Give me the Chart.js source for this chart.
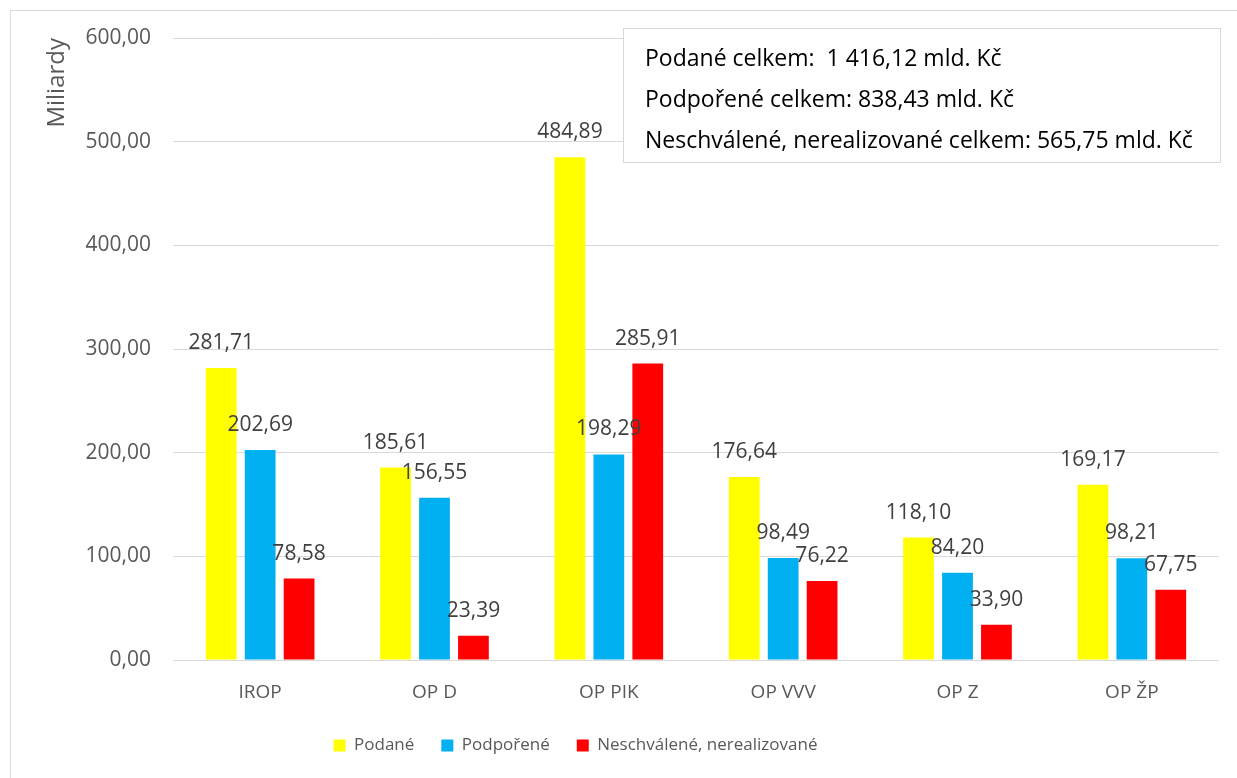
<!DOCTYPE html>
<html>
<head>
<meta charset="utf-8">
<script src="https://cdn.jsdelivr.net/npm/chart.js@4/dist/chart.umd.min.js"></script>
<style>
  html, body { margin: 0; padding: 0; background: #fff; }
  #wrap { width: 1237px; height: 778px; position: relative; }
</style>
</head>
<body>
<div id="wrap"><canvas id="chart"></canvas></div>
<script>
const categories = ['IROP', 'OP D', 'OP PIK', 'OP VVV', 'OP Z', 'OP ŽP'];
const podane = [281.71, 185.61, 484.89, 176.64, 118.10, 169.17];
const podporene = [202.69, 156.55, 198.29, 98.49, 84.20, 98.21];
const neschvalene = [78.58, 23.39, 285.91, 76.22, 33.90, 67.75];
const seriesNames = ['Podané', 'Podpořené', 'Neschválené, nerealizované'];
const summaryLines = [
  'Podané celkem:  1 416,12 mld. Kč',
  'Podpořené celkem: 838,43 mld. Kč',
  'Neschválené, nerealizované celkem: 565,75 mld. Kč',
];

const FONT = '"Open Sans", Lato, sans-serif';
const COLORS = {
  yellow: '#ffff00',
  blue: '#00b0f0',
  red: '#ff0000',
  grid: '#d9d9d9',
  text: '#595959',
  label: '#404040',
};

const fmt = (v) => v.toFixed(2).replace('.', ',');

// outer frame + summary box
const framePlugin = {
  id: 'frame',
  afterLayout(chart) {
    // legend sits a bit left of centre in the original
    chart.legend.left -= 34;
    chart.legend.right -= 34;
  },
  beforeDraw(chart) {
    const ctx = chart.ctx;
    ctx.save();
    ctx.fillStyle = '#fff';
    ctx.fillRect(0, 0, chart.width, chart.height);
    ctx.strokeStyle = COLORS.grid;
    ctx.lineWidth = 1;
    ctx.strokeRect(10.5, 10.5, 1400, 900);
    ctx.restore();
  },
  afterDraw(chart) {
    const ctx = chart.ctx;
    ctx.save();
    ctx.fillStyle = '#fff';
    ctx.fillRect(623, 28, 597, 134);
    ctx.strokeStyle = COLORS.grid;
    ctx.strokeRect(623.5, 28.5, 597, 134);
    ctx.fillStyle = '#000';
    ctx.font = '23px ' + FONT;
    ctx.textBaseline = 'middle';
    summaryLines.forEach((t, i) => ctx.fillText(t, 645, 59 + i * 41));
    ctx.restore();
  },
};

const valueLabels = {
  id: 'valueLabels',
  afterDatasetsDraw(chart) {
    const ctx = chart.ctx;
    ctx.save();
    ctx.font = '21px ' + FONT;
    ctx.fillStyle = COLORS.label;
    ctx.textAlign = 'center';
    ctx.textBaseline = 'middle';
    chart.data.datasets.forEach((ds, i) => {
      chart.getDatasetMeta(i).data.forEach((bar, j) => {
        ctx.fillText(fmt(ds.data[j]), bar.x, bar.y - 25);
      });
    });
    ctx.restore();
  },
};

new Chart(document.getElementById('chart'), {
  type: 'bar',
  data: {
    labels: categories,
    datasets: [
      { label: seriesNames[0], data: podane, backgroundColor: COLORS.yellow },
      { label: seriesNames[1], data: podporene, backgroundColor: COLORS.blue },
      { label: seriesNames[2], data: neschvalene, backgroundColor: COLORS.red },
    ],
  },
  options: {
    responsive: true,
    maintainAspectRatio: false,
    animation: false,
    categoryPercentage: 0.67,
    barPercentage: 0.79,
    layout: { padding: { left: 0, right: 18, top: 38, bottom: 14 } },
    plugins: {
      legend: {
        position: 'bottom',
        labels: {
          boxWidth: 12,
          boxHeight: 12,
          color: COLORS.text,
          font: { family: FONT, size: 17 },
          padding: 27,
        },
      },
      tooltip: { enabled: false },
    },
    scales: {
      x: {
        grid: { display: false },
        border: { display: false },
        ticks: { color: COLORS.text, font: { family: FONT, size: 19 }, padding: 13 },
        afterFit: (s) => { s.height = 50; },
      },
      y: {
        min: 0,
        max: 600,
        ticks: {
          stepSize: 100,
          color: COLORS.text,
          font: { family: FONT, size: 21 },
          padding: 22,
          callback: (v) => fmt(v),
        },
        grid: { color: COLORS.grid, lineWidth: 1, drawTicks: false },
        border: { display: false },
        title: {
          display: true,
          text: 'Miliardy',
          align: 'end',
          color: COLORS.text,
          font: { family: FONT, size: 24 },
          padding: { top: 43, bottom: 0 },
        },
        afterFit: (s) => { s.width = 173; },
      },
    },
  },
  plugins: [framePlugin, valueLabels],
});
</script>
</body>
</html>
